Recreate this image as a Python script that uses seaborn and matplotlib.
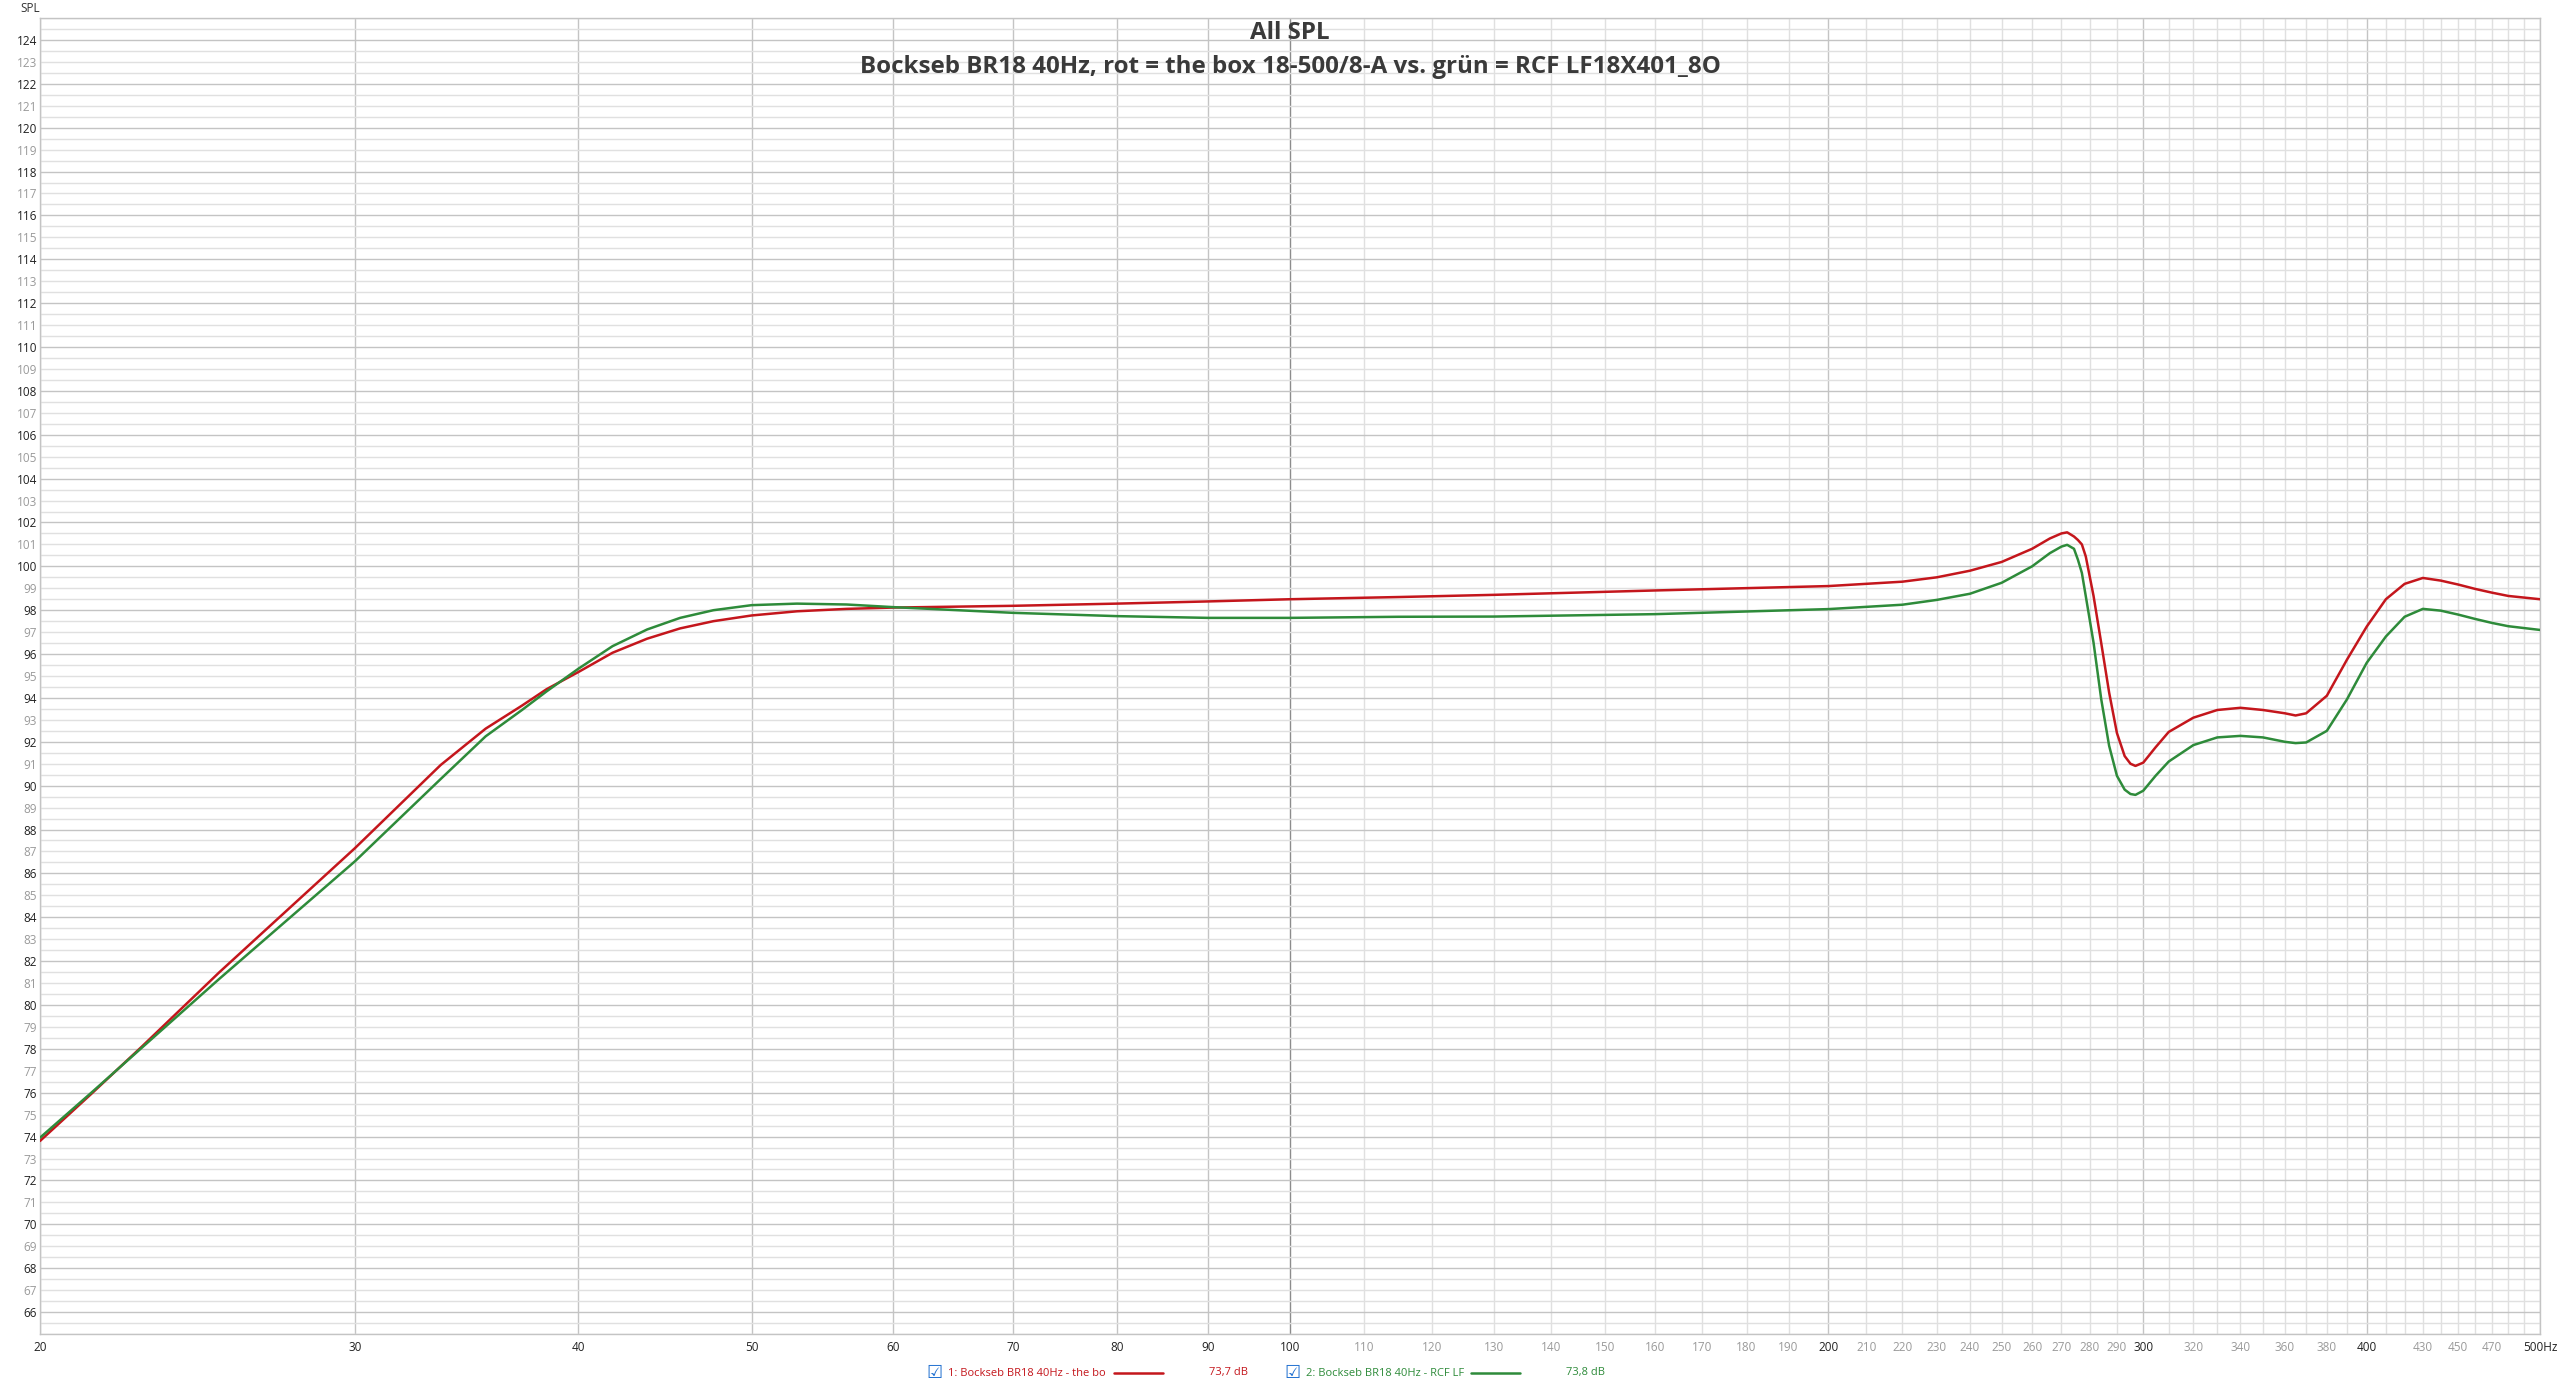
import numpy as np
import pandas as pd
import matplotlib
matplotlib.use("Agg")
import matplotlib.pyplot as plt
from matplotlib.lines import Line2D
from matplotlib.ticker import FixedLocator, MultipleLocator
import seaborn as sns

# --- data ---
freq = [20, 21.4, 22.8, 25.2, 30, 33.5, 35.5, 37.2, 38.4, 40, 41.8, 43.7, 45.6, 47.6,
        50, 53, 56.5, 60, 70, 80, 90, 100, 115, 130, 160, 200, 220, 230, 240, 250,
        260, 266, 270, 272, 274.4, 275.8, 277.2, 278.6, 281.4, 284.2, 287.1, 290,
        292.9, 295.1, 297, 300, 304.8, 310, 320, 330, 340, 350, 360, 365, 370, 380,
        390, 400, 410, 420, 430, 440, 450, 460, 470, 480, 500]
spl_red = [73.8, 76.0, 78.1, 81.5, 87.15, 90.94, 92.6, 93.65, 94.4, 95.18, 96.06, 96.7, 97.17, 97.5,
           97.76, 97.95, 98.06, 98.12, 98.2, 98.3, 98.4, 98.5, 98.6, 98.7, 98.9, 99.1, 99.3, 99.5, 99.8, 100.2,
           100.8, 101.27, 101.5, 101.55, 101.36, 101.2, 101.0, 100.45, 98.65, 96.5, 94.25, 92.4,
           91.35, 91.0, 90.9, 91.05, 91.75, 92.45, 93.1, 93.45, 93.55, 93.45, 93.3, 93.2, 93.3, 94.1,
           95.75, 97.25, 98.5, 99.2, 99.47, 99.35, 99.17, 98.97, 98.8, 98.65, 98.5]
spl_green = [73.95, 76.05, 78.05, 81.2, 86.55, 90.3, 92.25, 93.45, 94.3, 95.33, 96.36, 97.12, 97.65, 98.0,
             98.23, 98.3, 98.26, 98.14, 97.88, 97.73, 97.65, 97.65, 97.7, 97.71, 97.82, 98.05, 98.25, 98.47, 98.75, 99.25,
             100.0, 100.6, 100.9, 100.98, 100.8, 100.3, 99.7, 98.64, 96.52, 93.94, 91.82, 90.45,
             89.82, 89.62, 89.58, 89.77, 90.45, 91.1, 91.85, 92.2, 92.27, 92.2, 92.0, 91.94, 91.97, 92.5,
             93.94, 95.6, 96.8, 97.7, 98.06, 97.98, 97.8, 97.6, 97.42, 97.27, 97.1]

series_names = ["1: Bockseb BR18 40Hz - the bo", "2: Bockseb BR18 40Hz - RCF LF"]
series_levels = ["73,7 dB", "73,8 dB"]
series_colors = ["#C4161C", "#2E8B3A"]

title_1 = "All SPL"
title_2 = "Bockseb BR18 40Hz, rot = the box 18-500/8-A vs. grün = RCF LF18X401_8O"

x_grid = list(range(20, 501, 10))
x_labeled = {20: "20", 30: "30", 40: "40", 50: "50", 60: "60", 70: "70", 80: "80", 90: "90",
             100: "100", 110: "110", 120: "120", 130: "130", 140: "140", 150: "150", 160: "160",
             170: "170", 180: "180", 190: "190", 200: "200", 210: "210", 220: "220", 230: "230",
             240: "240", 250: "250", 260: "260", 270: "270", 280: "280", 290: "290", 300: "300",
             320: "320", 340: "340", 360: "360", 380: "380", 400: "400", 430: "430", 450: "450",
             470: "470", 500: "500Hz"}
x_dark = [20, 30, 40, 50, 60, 70, 80, 90, 100, 200, 300, 400, 500]

df = pd.concat([
    pd.DataFrame({"Hz": freq, "SPL": spl_red, "curve": series_names[0]}),
    pd.DataFrame({"Hz": freq, "SPL": spl_green, "curve": series_names[1]}),
])

# --- figure ---
sns.set_style("white")
plt.rcParams["font.family"] = ["Open Sans", "DejaVu Sans"]

W, H = 2560, 1385
fig = plt.figure(figsize=(W / 100, H / 100), dpi=100)
ax = fig.add_axes([40 / W, 1 - 1334 / H, 2500 / W, (1334 - 18) / H])

sns.lineplot(data=df, x="Hz", y="SPL", hue="curve", palette=series_colors,
             linewidth=1.8, legend=False, ax=ax, zorder=5, sort=False)

ax.set_xscale("log")
ax.set_xlim(20, 500)
ax.set_ylim(65, 125)

# x ticks / grid
ax.xaxis.set_major_locator(FixedLocator(x_grid))
ax.xaxis.set_minor_locator(FixedLocator([]))
ax.set_xticklabels([x_labeled.get(v, "") for v in x_grid])
for v, lab in zip(x_grid, ax.get_xticklabels()):
    lab.set_color("#222222" if v in x_dark else "#9a9a9a")
ax.tick_params(axis="x", length=0, pad=5, labelsize=8.5)

# y ticks / grid
y_major = list(range(66, 125))
ax.yaxis.set_major_locator(FixedLocator(y_major))
ax.yaxis.set_minor_locator(MultipleLocator(0.5))
ax.tick_params(axis="y", which="both", length=0, pad=2, labelsize=8.5)
for v, lab in zip(y_major, ax.get_yticklabels()):
    lab.set_color("#222222" if v % 2 == 0 else "#9a9a9a")

ax.grid(True, which="both", axis="both", zorder=0)
for v, gl in zip(x_grid, ax.get_xgridlines()):
    if v == 100:
        gl.set_color("#8c8c8c")
    elif v in x_dark:
        gl.set_color("#c4c4c4")
    else:
        gl.set_color("#e0e0e0")
    gl.set_linewidth(1.0)
for v, gl in zip(y_major, ax.get_ygridlines()):
    gl.set_color("#c4c4c4" if v % 2 == 0 else "#e0e0e0")
    gl.set_linewidth(1.0)
ax.yaxis.grid(True, which="minor", color="#e0e0e0", linewidth=1.0)
ax.set_axisbelow(True)

for s in ax.spines.values():
    s.set_color("#c4c4c4")
    s.set_linewidth(1.0)
ax.set_xlabel("")
ax.set_ylabel("")

fig.text(20 / W, 1 - 8 / H, "SPL", fontsize=8.5, color="#333333", ha="left", va="center")

# titles
fig.text(0.5 * (40 + 2540) / W, 1 - 33 / H, title_1, fontsize=17.4, fontweight="bold",
         color="#3a3a3a", ha="center", va="center", zorder=10)
fig.text(0.5 * (40 + 2540) / W, 1 - 67 / H, title_2, fontsize=17.4, fontweight="bold",
         color="#3a3a3a", ha="center", va="center", zorder=10)

# legend row
ly = 1 - 1373 / H
box_x = [934, 1292]
text_x = [948, 1306]
line_x = [(1114, 1163), (1471, 1520)]
val_x = [1209, 1566]
for i in range(2):
    fig.text(box_x[i] / W, ly, "\u2611", fontsize=13, color="#1f6fd0",
             ha="center", va="center", family="DejaVu Sans")
    fig.text(text_x[i] / W, ly, series_names[i], fontsize=8.0, color=series_colors[i],
             ha="left", va="center")
    fig.add_artist(Line2D([line_x[i][0] / W, line_x[i][1] / W], [ly, ly],
                          color=series_colors[i], linewidth=1.8, transform=fig.transFigure))
    fig.text(val_x[i] / W, ly, series_levels[i], fontsize=8.0, color=series_colors[i],
             ha="left", va="center")

fig.savefig("out.png", dpi=100)
